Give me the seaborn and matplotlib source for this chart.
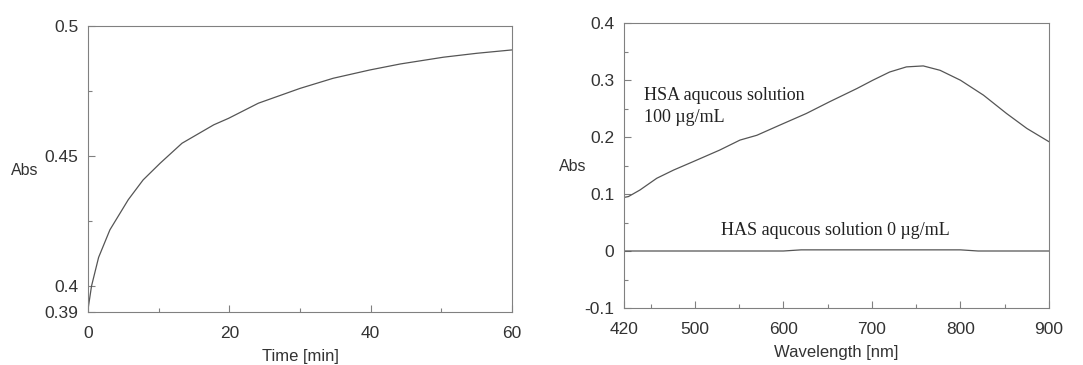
# -*- coding: utf-8 -*-

import matplotlib.pyplot as plt
import pandas as pd
import seaborn as sns
from matplotlib.ticker import FixedLocator

# kinetics: absorbance vs time
time_min = [0, 0.5, 1.5, 3.1, 5.7, 7.8, 10.2, 13.3, 17.8, 19.9, 24.1, 30.0, 34.7, 39.9, 44.2, 50.3, 55.0, 60.0]
abs_time = [0.391, 0.400, 0.411, 0.4216, 0.4332, 0.4408, 0.4472, 0.4549, 0.4620, 0.4645, 0.4703, 0.4760,
            0.4799, 0.4831, 0.4854, 0.4880, 0.4895, 0.4908]

# spectra
wavelength = [420, 425, 438, 457, 476, 498, 528, 551, 570, 596, 626, 652, 683, 701, 720, 739, 758, 777,
              800, 826, 852, 875, 900]
abs_hsa_100 = [0.094, 0.0955, 0.107, 0.1276, 0.142, 0.1567, 0.177, 0.1946, 0.203, 0.2209, 0.2413, 0.2617,
               0.285, 0.2996, 0.314, 0.323, 0.3247, 0.317, 0.2996, 0.2734, 0.2413, 0.215, 0.1917]
wl_blank = [420, 500, 600, 620, 700, 800, 820, 900]
abs_blank = [0.0, 0.0, 0.0, 0.002, 0.002, 0.002, 0.0, 0.0]

left_yticks = [0.39, 0.4, 0.45, 0.5]
left_ylabels = ['0.39', '0.4', '0.45', '0.5']
right_yticks = [-0.1, 0.0, 0.1, 0.2, 0.3, 0.4]
right_ylabels = ['-0.1', '0', '0.1', '0.2', '0.3', '0.4']

sns.set_style('ticks')
plt.rcParams['font.family'] = ['Liberation Sans', 'DejaVu Sans']
plt.rcParams['axes.edgecolor'] = '#808080'
plt.rcParams['axes.linewidth'] = 0.8
plt.rcParams['xtick.direction'] = 'in'
plt.rcParams['ytick.direction'] = 'in'
plt.rcParams['xtick.color'] = '#808080'
plt.rcParams['ytick.color'] = '#808080'
plt.rcParams['xtick.labelcolor'] = '#333333'
plt.rcParams['ytick.labelcolor'] = '#333333'

TXT = '#333333'
LINE = '#555555'

fig = plt.figure(figsize=(10.83, 3.65), dpi=100)
ax1 = fig.add_axes([88 / 1083, 1 - 312 / 365, (512 - 88) / 1083, (312 - 26) / 365])
ax2 = fig.add_axes([624 / 1083, 1 - 308 / 365, (1049 - 624) / 1083, (308 - 23) / 365])

df1 = pd.DataFrame({'t': time_min, 'a': abs_time})
sns.lineplot(data=df1, x='t', y='a', ax=ax1, color=LINE, lw=0.9)
ax1.set_xlim(0, 60)
ax1.set_ylim(0.39, 0.5)
ax1.xaxis.set_major_locator(FixedLocator([0, 20, 40, 60]))
ax1.xaxis.set_minor_locator(FixedLocator([10, 30, 50]))
ax1.set_yticks(left_yticks, left_ylabels)
ax1.yaxis.set_minor_locator(FixedLocator([0.425, 0.475]))
ax1.set_xlabel('Time [min]', color=TXT, fontsize=12, labelpad=6)
ax1.set_ylabel('Abs', color=TXT, fontsize=11.5, rotation=0)
ax1.yaxis.set_label_coords(-0.15, 0.47)

df_hsa = pd.DataFrame({'w': wavelength, 'a': abs_hsa_100})
df_blank = pd.DataFrame({'w': wl_blank, 'a': abs_blank})
sns.lineplot(data=df_hsa, x='w', y='a', ax=ax2, color=LINE, lw=0.9)
sns.lineplot(data=df_blank, x='w', y='a', ax=ax2, color=LINE, lw=0.9)
ax2.set_xlim(420, 900)
ax2.set_ylim(-0.1, 0.4)
ax2.xaxis.set_major_locator(FixedLocator([420, 500, 600, 700, 800, 900]))
ax2.xaxis.set_minor_locator(FixedLocator([450, 550, 650, 750, 850]))
ax2.set_yticks(right_yticks, right_ylabels)
ax2.yaxis.set_minor_locator(FixedLocator([-0.05, 0.05, 0.15, 0.25, 0.35]))
ax2.set_xlabel('Wavelength [nm]', color=TXT, fontsize=12, labelpad=6)
ax2.set_ylabel('Abs', color=TXT, fontsize=11.5, rotation=0)
ax2.yaxis.set_label_coords(-0.12, 0.47)

serif = ['Liberation Serif', 'DejaVu Serif']
ax2.text(443, 0.265, 'HSA aqucous solution', family=serif, fontsize=13, color='#222222')
ax2.text(443, 0.227, '100 \u00b5g/mL', family=serif, fontsize=13, color='#222222')
ax2.text(530, 0.028, 'HAS aqucous solution 0 \u00b5g/mL', family=serif, fontsize=13, color='#222222')

for ax in (ax1, ax2):
    ax.tick_params(which='major', length=5, width=0.8, labelsize=12.5, pad=7)
    ax.tick_params(axis='x', which='major', pad=10)
    ax.tick_params(which='minor', length=3, width=0.8)
    for s in ax.spines.values():
        s.set_visible(True)

plt.savefig('out.png', dpi=100)
